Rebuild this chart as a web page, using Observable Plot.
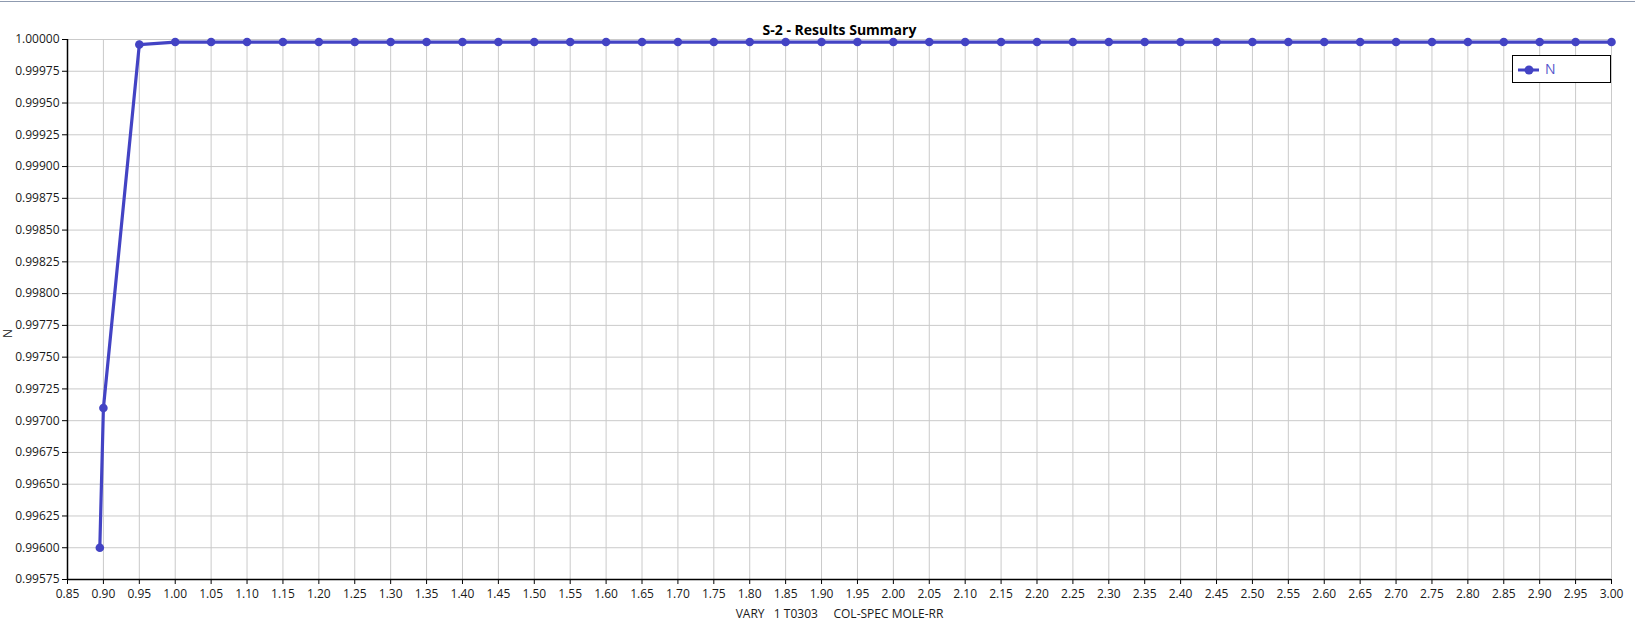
<!DOCTYPE html>
<html>
<head>
<meta charset="utf-8">
<script src="https://cdn.jsdelivr.net/npm/d3@7"></script>
<script src="https://cdn.jsdelivr.net/npm/@observablehq/plot@0.6"></script>
<style>
  html, body { margin: 0; padding: 0; background: #fff; }
  #wrap { position: relative; width: 1635px; height: 636px; overflow: hidden; font-family: "Open Sans", sans-serif; }
  #topline { position: absolute; left: 0; top: 1px; width: 1635px; height: 0; border-top: 1.5px solid #8f9bb0; }
  #legend { position: absolute; left: 1512px; top: 55px; width: 97px; height: 26px; border: 1.5px solid #000; background: #fff; box-sizing: content-box; }
  #legend svg { position: absolute; left: 0; top: 0; }
  #legend span { position: absolute; left: 32px; top: 4px; font-size: 14px; color: #5555cc; line-height: 18px; }
</style>
</head>
<body>
<div id="wrap">
  <div id="chart"></div>
  <div id="topline"></div>
  <div id="legend">
    <svg width="30" height="26"><line x1="5" x2="26" y1="14" y2="14" stroke="#4343c4" stroke-width="3"/><circle cx="16" cy="14" r="4.5" fill="#4343c4"/></svg>
    <span>N</span>
  </div>
</div>
<script>
const titleText = "S-2 - Results Summary";
const xLabelText = "VARY   1 T0303     COL-SPEC MOLE-RR";
const yLabelText = "N";

const xValues = [0.895, 0.90, 0.95, 1.00, 1.05, 1.10, 1.15, 1.20, 1.25, 1.30, 1.35, 1.40, 1.45, 1.50, 1.55, 1.60, 1.65, 1.70, 1.75, 1.80, 1.85, 1.90, 1.95, 2.00, 2.05, 2.10, 2.15, 2.20, 2.25, 2.30, 2.35, 2.40, 2.45, 2.50, 2.55, 2.60, 2.65, 2.70, 2.75, 2.80, 2.85, 2.90, 2.95, 3.00];
const nValues = [0.99600, 0.99710, 0.99996, 0.99998, 0.99998, 0.99998, 0.99998, 0.99998, 0.99998, 0.99998, 0.99998, 0.99998, 0.99998, 0.99998, 0.99998, 0.99998, 0.99998, 0.99998, 0.99998, 0.99998, 0.99998, 0.99998, 0.99998, 0.99998, 0.99998, 0.99998, 0.99998, 0.99998, 0.99998, 0.99998, 0.99998, 0.99998, 0.99998, 0.99998, 0.99998, 0.99998, 0.99998, 0.99998, 0.99998, 0.99998, 0.99998, 0.99998, 0.99998, 0.99998];

const xTicks = [0.85, 0.90, 0.95, 1.00, 1.05, 1.10, 1.15, 1.20, 1.25, 1.30, 1.35, 1.40, 1.45, 1.50, 1.55, 1.60, 1.65, 1.70, 1.75, 1.80, 1.85, 1.90, 1.95, 2.00, 2.05, 2.10, 2.15, 2.20, 2.25, 2.30, 2.35, 2.40, 2.45, 2.50, 2.55, 2.60, 2.65, 2.70, 2.75, 2.80, 2.85, 2.90, 2.95, 3.00];
const yTicks = [0.99575, 0.99600, 0.99625, 0.99650, 0.99675, 0.99700, 0.99725, 0.99750, 0.99775, 0.99800, 0.99825, 0.99850, 0.99875, 0.99900, 0.99925, 0.99950, 0.99975, 1.00000];

const data = xValues.map((x, i) => ({x, n: nValues[i]}));
const lineColor = "#4343c4";
const gridColor = "#cacaca";

const chart = Plot.plot({
  width: 1635,
  height: 636,
  marginLeft: 67,
  marginRight: 24,
  marginTop: 39,
  marginBottom: 57,
  style: {fontFamily: "'Open Sans', sans-serif", fontSize: "12px", color: "#1a1a1a", background: "#fff", overflow: "visible"},
  x: {domain: [0.85, 3.00], label: null},
  y: {domain: [0.99575, 1.00000], label: null},
  marks: [
    Plot.gridX(xTicks, {stroke: gridColor, strokeOpacity: 1, strokeWidth: 1}),
    Plot.gridY(yTicks, {stroke: gridColor, strokeOpacity: 1, strokeWidth: 1}),
    Plot.axisX(xTicks, {tickSize: 5, tickFormat: d => d.toFixed(2), fontSize: 12, tickPadding: 5, stroke: "#000", fill: "#1a1a1a"}),
    Plot.axisY(yTicks, {tickSize: 5, tickFormat: d => d.toFixed(5), fontSize: 12, tickPadding: 3, stroke: "#000", fill: "#1a1a1a"}),
    Plot.ruleX([0.85], {stroke: "#000", strokeWidth: 1.5}),
    Plot.ruleY([0.99575], {stroke: "#000", strokeWidth: 1.5}),
    Plot.line(data, {x: "x", y: "n", stroke: lineColor, strokeWidth: 3.2, strokeLinejoin: "round"}),
    Plot.dot(data, {x: "x", y: "n", fill: lineColor, r: 4.3}),
    Plot.text([titleText], {text: d => d, frameAnchor: "top", dy: -14, fontSize: 14, fontWeight: "bold", fill: "#000"}),
    Plot.text([xLabelText], {text: d => d, frameAnchor: "bottom", dy: 38, fontSize: 12, fill: "#1a1a1a"}),
    Plot.text([yLabelText], {text: d => d, frameAnchor: "left", dx: -59, dy: 24, rotate: -90, textAnchor: "middle", lineAnchor: "middle", fontSize: 12, fill: "#1a1a1a"})
  ]
});
document.getElementById("chart").appendChild(chart);
</script>
</body>
</html>
